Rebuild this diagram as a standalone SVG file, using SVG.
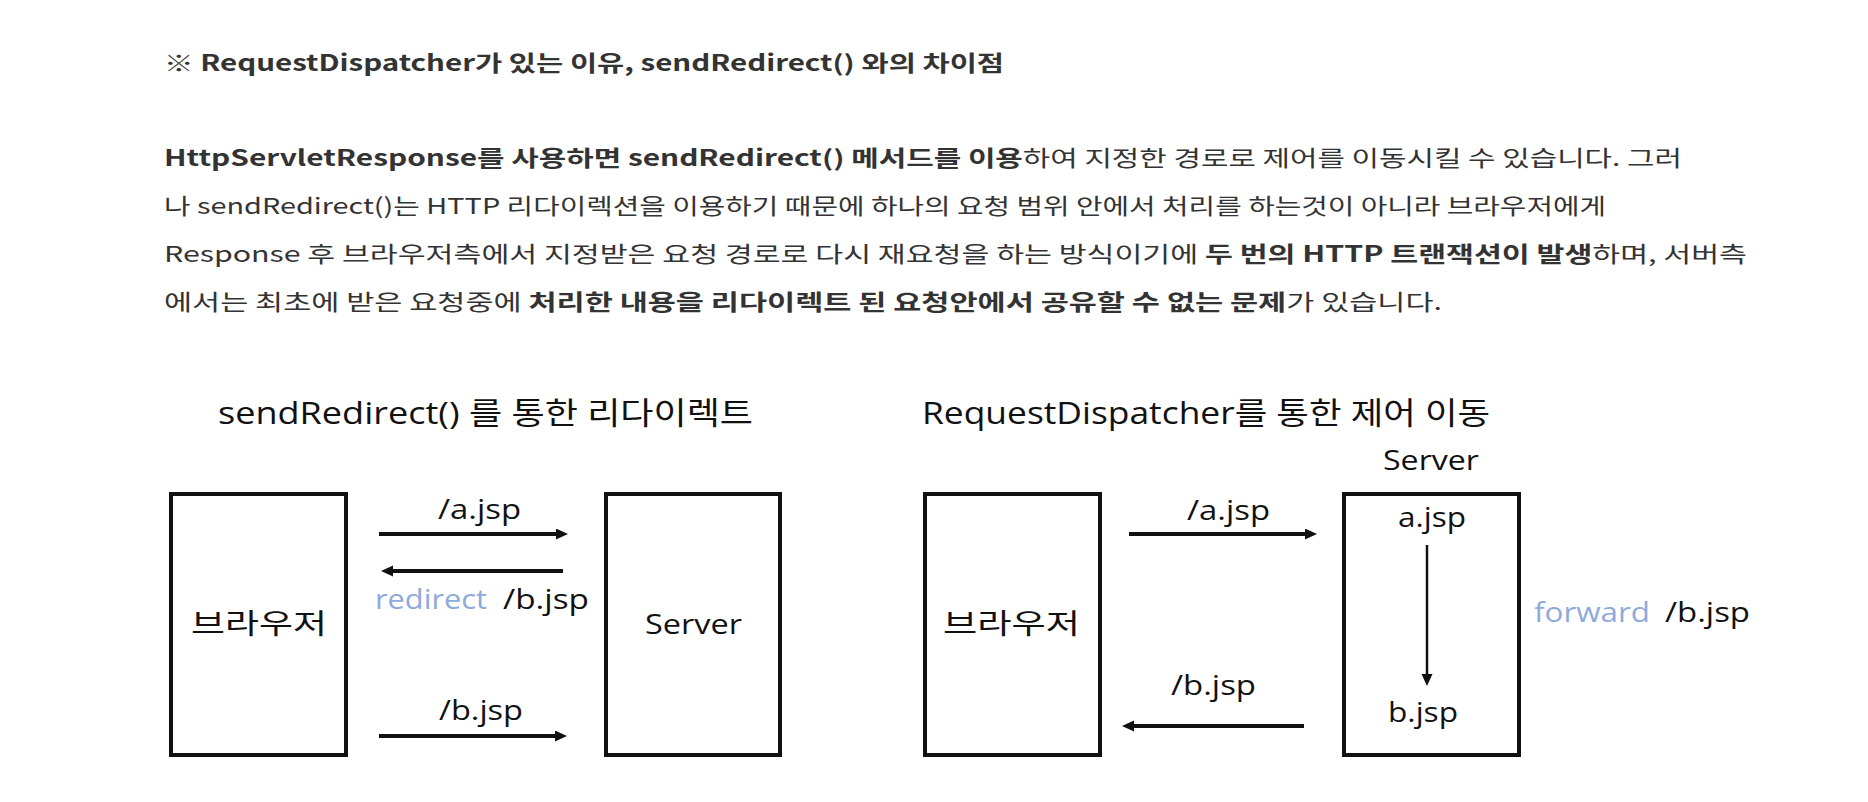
<svg xmlns="http://www.w3.org/2000/svg" width="1868" height="802" viewBox="0 0 1868 802">
<style>
.para{font-family:"Noto Sans CJK KR","Noto Sans",sans-serif;font-size:22px;fill:#333}
.b{font-weight:bold}
.lbl{font-family:"Open Sans","Noto Sans CJK KR",sans-serif;font-size:28px;fill:#111}
.ttl{font-family:"Open Sans","Noto Sans CJK KR",sans-serif;font-size:31px;fill:#111}
.blue{fill:#8eaadc}
.box{fill:#fff;stroke:#111;stroke-width:4}
.arr{stroke:#111;stroke-width:4;fill:none;marker-end:url(#ah)}
.arrv{stroke:#111;stroke-width:2.5;fill:none;marker-end:url(#ah)}
</style>
<defs>
<marker id="ah" markerUnits="userSpaceOnUse" markerWidth="14" markerHeight="12" refX="4" refY="5.5" orient="auto">
<path d="M0,0 L12,5.5 L0,11 Z" fill="#111"/>
</marker>
</defs>
<rect width="1868" height="802" fill="#fff"/>
<g id="text-block">
<text class="para b" x="164" y="71" textLength="840" lengthAdjust="spacingAndGlyphs">※ RequestDispatcher가 있는 이유, sendRedirect() 와의 차이점</text>
<text class="para" x="164" y="166" textLength="1518" lengthAdjust="spacingAndGlyphs"><tspan class="b">HttpServletResponse를 사용하면 sendRedirect() 메서드를 이용</tspan>하여 지정한 경로로 제어를 이동시킬 수 있습니다. 그러</text>
<text class="para" x="164" y="214" textLength="1442" lengthAdjust="spacingAndGlyphs">나 sendRedirect()는 HTTP 리다이렉션을 이용하기 때문에 하나의 요청 범위 안에서 처리를 하는것이 아니라 브라우저에게</text>
<text class="para" x="164" y="262" textLength="1583" lengthAdjust="spacingAndGlyphs">Response 후 브라우저측에서 지정받은 요청 경로로 다시 재요청을 하는 방식이기에 <tspan class="b">두 번의 HTTP 트랜잭션이 발생</tspan>하며, 서버측</text>
<text class="para" x="164" y="310" textLength="1278" lengthAdjust="spacingAndGlyphs">에서는 최초에 받은 요청중에 <tspan class="b">처리한 내용을 리다이렉트 된 요청안에서 공유할 수 없는 문제</tspan>가 있습니다.</text>
</g>
<g id="titles">
<text class="ttl" x="218" y="424" textLength="535" lengthAdjust="spacingAndGlyphs">sendRedirect() 를 통한 리다이렉트</text>
<text class="ttl" x="922" y="424" textLength="568" lengthAdjust="spacingAndGlyphs">RequestDispatcher를 통한 제어 이동</text>
</g>
<g id="left-browser">
<rect class="box" x="171" y="494" width="175" height="261"/>
<text class="lbl" x="191" y="634" textLength="136" lengthAdjust="spacingAndGlyphs">브라우저</text>
</g>
<g id="left-server">
<rect class="box" x="606" y="494" width="174" height="261"/>
<text class="lbl" x="645" y="634" textLength="97" lengthAdjust="spacingAndGlyphs">Server</text>
</g>
<g id="right-browser">
<rect class="box" x="925" y="494" width="175" height="261"/>
<text class="lbl" x="943" y="634" textLength="137" lengthAdjust="spacingAndGlyphs">브라우저</text>
</g>
<g id="right-server">
<text class="lbl" x="1383" y="470" textLength="96" lengthAdjust="spacingAndGlyphs">Server</text>
<rect class="box" x="1344" y="494" width="175" height="261"/>
<text class="lbl" x="1398" y="527" textLength="68" lengthAdjust="spacingAndGlyphs">a.jsp</text>
<text class="lbl" x="1388" y="722" textLength="70" lengthAdjust="spacingAndGlyphs">b.jsp</text>
</g>
<g id="connectors">
<line class="arr" x1="379" y1="534" x2="560" y2="534"/>
<line class="arr" x1="563" y1="571" x2="389" y2="571"/>
<line class="arr" x1="379" y1="736" x2="559" y2="736"/>
<line class="arr" x1="1129" y1="534" x2="1309" y2="534"/>
<line class="arr" x1="1304" y1="726" x2="1130" y2="726"/>
<line class="arrv" x1="1427" y1="545" x2="1427" y2="678"/>
</g>
<g id="connector-labels">
<text class="lbl" x="438" y="519" textLength="83" lengthAdjust="spacingAndGlyphs">/a.jsp</text>
<text class="lbl blue" x="375" y="609" textLength="112" lengthAdjust="spacingAndGlyphs">redirect</text>
<text class="lbl" x="503" y="609" textLength="86" lengthAdjust="spacingAndGlyphs">/b.jsp</text>
<text class="lbl" x="439" y="720" textLength="84" lengthAdjust="spacingAndGlyphs">/b.jsp</text>
<text class="lbl" x="1187" y="520" textLength="83" lengthAdjust="spacingAndGlyphs">/a.jsp</text>
<text class="lbl" x="1171" y="695" textLength="85" lengthAdjust="spacingAndGlyphs">/b.jsp</text>
<text class="lbl blue" x="1534" y="622" textLength="116" lengthAdjust="spacingAndGlyphs">forward</text>
<text class="lbl" x="1665" y="622" textLength="85" lengthAdjust="spacingAndGlyphs">/b.jsp</text>
</g>
</svg>
